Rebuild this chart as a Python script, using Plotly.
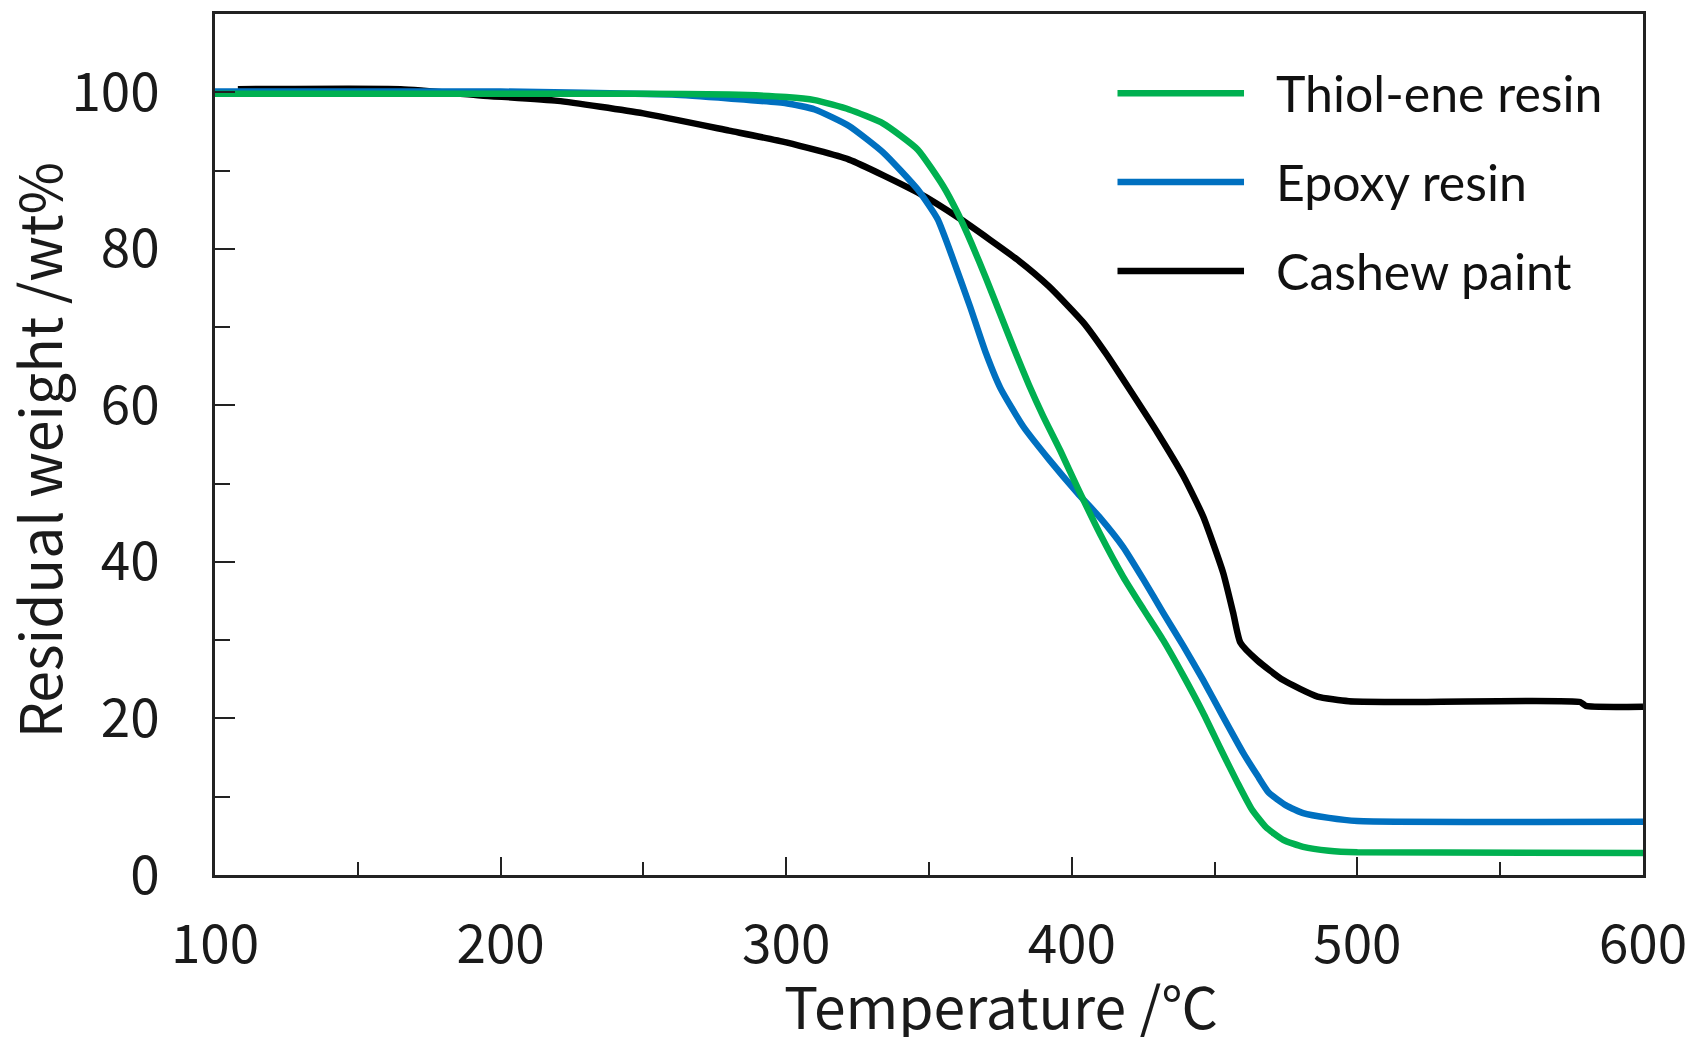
import plotly.graph_objects as go

# ---- data ----
thiol_T = [100, 150, 200, 250, 280, 300, 310, 322, 334, 346, 355, 360, 365, 370, 375, 380, 385, 390, 396, 402,
           410, 418, 425, 432, 439, 446, 452, 458, 463, 468, 474, 481, 490, 500, 600]
thiol_W = [99.8, 99.8, 99.8, 99.8, 99.7, 99.4, 99.0, 97.8, 96.0, 92.7, 88.0, 84.6, 80.6, 76.2, 71.6, 67.0, 62.6, 58.6, 54.2, 49.5,
           43.5, 38.1, 34.0, 30.0, 25.5, 20.7, 16.2, 11.8, 8.4, 6.1, 4.5, 3.6, 3.1, 2.9, 2.8]

epoxy_T = [100, 150, 200, 260, 280, 300, 310, 322, 334, 346, 353, 358.5, 364.4, 370, 375, 383, 392, 402,
           410, 418, 425, 432, 439, 446, 453, 460, 465, 469, 475, 481, 490, 500, 600]
epoxy_W = [100.1, 100.1, 100.1, 99.7, 99.2, 98.6, 97.8, 95.7, 92.3, 87.6, 83.8, 78.6, 72.6, 66.6, 62.2, 57.3, 53.1, 48.8,
           45.6, 41.9, 37.8, 33.5, 29.3, 24.9, 20.2, 15.6, 12.7, 10.5, 8.9, 7.9, 7.3, 6.9, 6.8]

cashew_T = [108, 165, 193, 220, 250, 280, 300, 322, 346, 361, 381, 392, 404, 412, 421, 430, 439, 446, 453, 456.5, 459,
            465, 474, 486, 497, 515, 578, 580, 600]
cashew_W = [100.4, 100.4, 99.6, 98.9, 97.3, 95.1, 93.6, 91.4, 87.2, 83.8, 78.6, 75.2, 70.6, 66.6, 61.6, 56.5, 51.0, 45.8, 38.6, 33.5, 29.7,
            27.4, 24.9, 22.8, 22.2, 22.1, 22.1, 21.6, 21.5]

series_names = ["Thiol-ene resin", "Epoxy resin", "Cashew paint"]
series_colors = ["#00B050", "#0070C0", "#000000"]

x_ticks = [100, 200, 300, 400, 500, 600]
y_ticks = [0, 20, 40, 60, 80, 100]

x_title = "Temperature /℃"
y_title = "Residual weight /wt%"

# ---- figure ----
fig = go.Figure()
for T, W, name, color in [(cashew_T, cashew_W, series_names[2], series_colors[2]),
                          (epoxy_T, epoxy_W, series_names[1], series_colors[1]),
                          (thiol_T, thiol_W, series_names[0], series_colors[0])]:
    fig.add_trace(go.Scatter(x=T, y=W, mode="lines", name=name, showlegend=False,
                             line=dict(color=color, width=6.5, shape="spline", smoothing=0.5)))

tick_font = dict(family="Noto Sans CJK JP", size=53, color="#1a1a1a")
title_font = dict(family="Noto Sans CJK JP", size=57, color="#1a1a1a")

fig.update_xaxes(range=[100, 600], tickvals=x_ticks, ticktext=[str(v) for v in x_ticks],
                 ticks="inside", ticklen=18, tickwidth=2, tickcolor="#222",
                 minor=dict(dtick=50, tick0=100, ticks="inside", ticklen=13, tickwidth=2, tickcolor="#222"),
                 showline=True, linewidth=2.5, linecolor="#222", mirror=True,
                 showgrid=False, zeroline=False, tickfont=tick_font, ticklabelstandoff=22)
fig.update_yaxes(range=[0, 110], tickvals=y_ticks, ticktext=[str(v) for v in y_ticks],
                 ticks="inside", ticklen=20, tickwidth=2, tickcolor="#222",
                 minor=dict(dtick=10, tick0=0, ticks="inside", ticklen=15, tickwidth=2, tickcolor="#222"),
                 showline=True, linewidth=2.5, linecolor="#222", mirror=True,
                 showgrid=False, zeroline=False, tickfont=tick_font, ticklabelstandoff=42)

annotations = [
    dict(text=x_title, xref="paper", yref="paper", x=0.5504, y=-0.150, xanchor="center", yanchor="middle",
         showarrow=False, font=title_font),
    dict(text=y_title, xref="paper", yref="paper", x=-0.1245, y=0.4936, xanchor="center", yanchor="middle",
         textangle=-90, showarrow=False, font=title_font),
]
shapes = []
legend_y = [0.908, 0.805, 0.7015]
for name, color, ly in zip(series_names, series_colors, legend_y):
    shapes.append(dict(type="line", xref="paper", yref="paper", x0=0.632, x1=0.7206, y0=ly, y1=ly,
                       line=dict(color=color, width=6.5)))
    annotations.append(dict(text=name, xref="paper", yref="paper", x=0.7416, y=ly, xanchor="left",
                            yanchor="middle", showarrow=False,
                            font=dict(family="Lato", size=50, color="#111")))

# page body has an 8px margin, so the figure is sized/offset to compensate
fig.update_layout(width=1685, height=1029, plot_bgcolor="white", paper_bgcolor="white",
                  margin=dict(l=207, r=50, t=6, b=162, autoexpand=False),
                  annotations=annotations, shapes=shapes)

fig.write_html("out.html")
